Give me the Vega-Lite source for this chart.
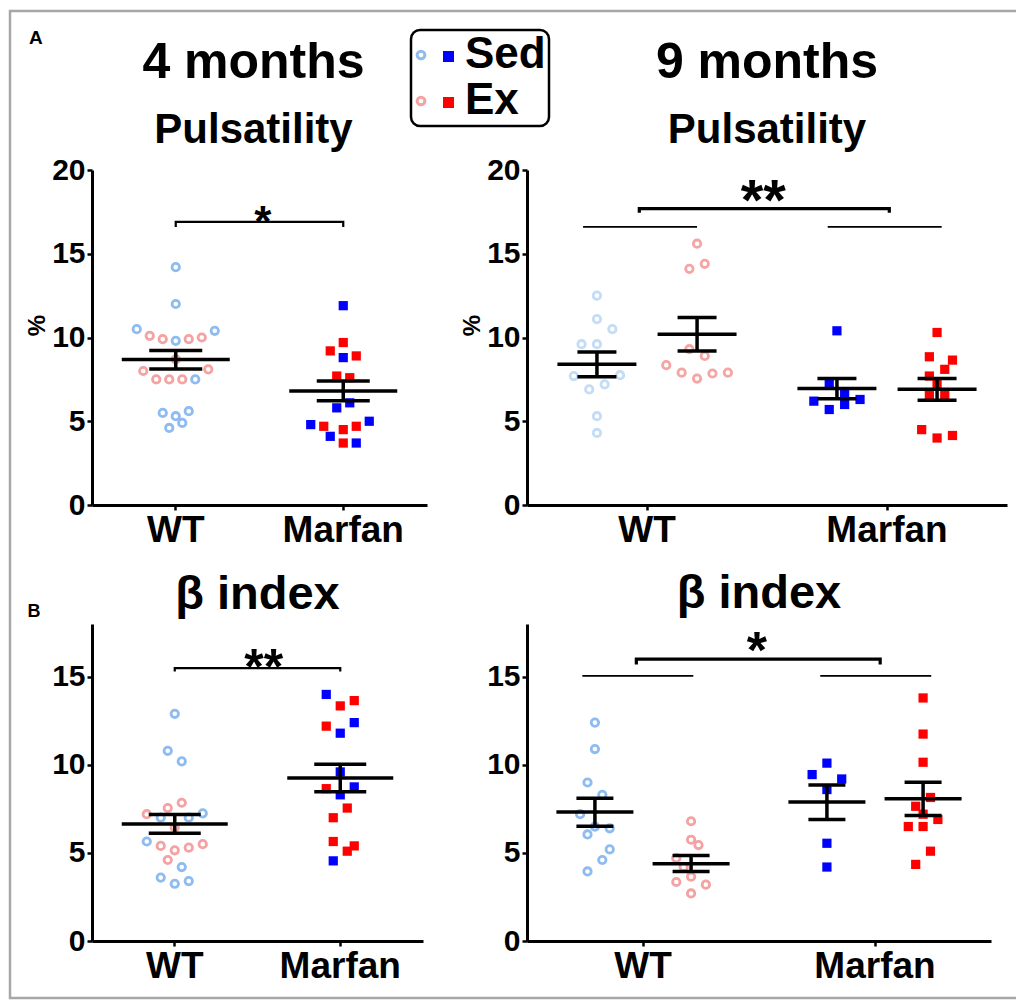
{
  "$schema": "https://vega.github.io/schema/vega-lite/v6.json",
  "autosize": {"type": "none"},
  "padding": {"left": 92, "top": 170, "right": 924, "bottom": 830},
  "background": "white",
  "title": {"text": "A", "anchor": "start", "frame": "group", "fontSize": 19, "offset": -38, "dx": -63},
  "resolve": {"scale": {"xOffset": "independent"}},
  "datasets": {
    "pts": [
      {"p":"p4","g":"WT","s":"Sed","c":0,"v":14.2},{"p":"p4","g":"WT","s":"Sed","c":0,"v":12.0},{"p":"p4","g":"WT","s":"Sed","c":-6,"v":10.5},{"p":"p4","g":"WT","s":"Sed","c":6,"v":10.4},{"p":"p4","g":"WT","s":"Sed","c":0,"v":9.8},{"p":"p4","g":"WT","s":"Sed","c":3,"v":7.5},{"p":"p4","g":"WT","s":"Sed","c":-2,"v":5.5},{"p":"p4","g":"WT","s":"Sed","c":0,"v":5.3},{"p":"p4","g":"WT","s":"Sed","c":2,"v":5.6},{"p":"p4","g":"WT","s":"Sed","c":1,"v":4.9},{"p":"p4","g":"WT","s":"Sed","c":-1,"v":4.6},
      {"p":"p4","g":"WT","s":"Ex","c":-4,"v":10.1},{"p":"p4","g":"WT","s":"Ex","c":-2,"v":9.9},{"p":"p4","g":"WT","s":"Ex","c":2,"v":9.9},{"p":"p4","g":"WT","s":"Ex","c":4,"v":10.0},{"p":"p4","g":"WT","s":"Ex","c":0,"v":8.7},{"p":"p4","g":"WT","s":"Ex","c":-5,"v":8.0},{"p":"p4","g":"WT","s":"Ex","c":5,"v":8.1},{"p":"p4","g":"WT","s":"Ex","c":-3,"v":7.5},{"p":"p4","g":"WT","s":"Ex","c":-1,"v":7.5},{"p":"p4","g":"WT","s":"Ex","c":1,"v":7.5},
      {"p":"p4","g":"Marfan","s":"Sed","c":0,"v":11.9},{"p":"p4","g":"Marfan","s":"Sed","c":0,"v":8.8},{"p":"p4","g":"Marfan","s":"Sed","c":-1,"v":5.8},{"p":"p4","g":"Marfan","s":"Sed","c":1,"v":6.1},{"p":"p4","g":"Marfan","s":"Sed","c":-5,"v":4.8},{"p":"p4","g":"Marfan","s":"Sed","c":4,"v":5.0},{"p":"p4","g":"Marfan","s":"Sed","c":-2,"v":4.1},{"p":"p4","g":"Marfan","s":"Sed","c":2,"v":3.7},
      {"p":"p4","g":"Marfan","s":"Ex","c":0,"v":9.7},{"p":"p4","g":"Marfan","s":"Ex","c":-2,"v":9.2},{"p":"p4","g":"Marfan","s":"Ex","c":2,"v":8.9},{"p":"p4","g":"Marfan","s":"Ex","c":-1,"v":7.7},{"p":"p4","g":"Marfan","s":"Ex","c":1,"v":7.6},{"p":"p4","g":"Marfan","s":"Ex","c":-3,"v":4.7},{"p":"p4","g":"Marfan","s":"Ex","c":0,"v":4.5},{"p":"p4","g":"Marfan","s":"Ex","c":2,"v":4.7},{"p":"p4","g":"Marfan","s":"Ex","c":0,"v":3.7},

      {"p":"p9","g":"WT","s":"Sed","c":-6.5,"v":12.5},{"p":"p9","g":"WT","s":"Sed","c":-6.5,"v":11.1},{"p":"p9","g":"WT","s":"Sed","c":-4.5,"v":10.5},{"p":"p9","g":"WT","s":"Sed","c":-8.5,"v":9.6},{"p":"p9","g":"WT","s":"Sed","c":-6.5,"v":9.6},{"p":"p9","g":"WT","s":"Sed","c":-9.5,"v":7.7},{"p":"p9","g":"WT","s":"Sed","c":-3.5,"v":7.75},{"p":"p9","g":"WT","s":"Sed","c":-7.5,"v":6.9},{"p":"p9","g":"WT","s":"Sed","c":-5.5,"v":7.2},{"p":"p9","g":"WT","s":"Sed","c":-6.5,"v":5.3},{"p":"p9","g":"WT","s":"Sed","c":-6.5,"v":4.3},
      {"p":"p9","g":"WT","s":"Ex","c":6.5,"v":15.6},{"p":"p9","g":"WT","s":"Ex","c":7.5,"v":14.4},{"p":"p9","g":"WT","s":"Ex","c":5.5,"v":14.1},{"p":"p9","g":"WT","s":"Ex","c":5.5,"v":9.3},{"p":"p9","g":"WT","s":"Ex","c":7.5,"v":8.9},{"p":"p9","g":"WT","s":"Ex","c":2.5,"v":8.35},{"p":"p9","g":"WT","s":"Ex","c":4.5,"v":7.9},{"p":"p9","g":"WT","s":"Ex","c":6.5,"v":7.55},{"p":"p9","g":"WT","s":"Ex","c":8.5,"v":7.85},{"p":"p9","g":"WT","s":"Ex","c":10.5,"v":7.9},
      {"p":"p9","g":"Marfan","s":"Sed","c":-6.5,"v":10.4},{"p":"p9","g":"Marfan","s":"Sed","c":-7.5,"v":7.2},{"p":"p9","g":"Marfan","s":"Sed","c":-5.5,"v":6.7},{"p":"p9","g":"Marfan","s":"Sed","c":-9.5,"v":6.2},{"p":"p9","g":"Marfan","s":"Sed","c":-7.5,"v":5.7},{"p":"p9","g":"Marfan","s":"Sed","c":-5.5,"v":6.0},{"p":"p9","g":"Marfan","s":"Sed","c":-3.5,"v":6.3},
      {"p":"p9","g":"Marfan","s":"Ex","c":6.5,"v":10.3},{"p":"p9","g":"Marfan","s":"Ex","c":5.5,"v":8.85},{"p":"p9","g":"Marfan","s":"Ex","c":8.5,"v":8.65},{"p":"p9","g":"Marfan","s":"Ex","c":7.5,"v":8.1},{"p":"p9","g":"Marfan","s":"Ex","c":5.5,"v":7.7},{"p":"p9","g":"Marfan","s":"Ex","c":6.5,"v":7.2},{"p":"p9","g":"Marfan","s":"Ex","c":5.5,"v":6.6},{"p":"p9","g":"Marfan","s":"Ex","c":7.5,"v":6.6},{"p":"p9","g":"Marfan","s":"Ex","c":4.5,"v":4.5},{"p":"p9","g":"Marfan","s":"Ex","c":6.5,"v":4.0},{"p":"p9","g":"Marfan","s":"Ex","c":8.5,"v":4.15},

      {"p":"b4","g":"WT","s":"Sed","c":0,"v":12.9},{"p":"b4","g":"WT","s":"Sed","c":-1,"v":10.8},{"p":"b4","g":"WT","s":"Sed","c":1,"v":10.2},{"p":"b4","g":"WT","s":"Sed","c":4,"v":7.25},{"p":"b4","g":"WT","s":"Sed","c":-2,"v":7.0},{"p":"b4","g":"WT","s":"Sed","c":2,"v":7.0},{"p":"b4","g":"WT","s":"Sed","c":-4,"v":5.65},{"p":"b4","g":"WT","s":"Sed","c":1,"v":4.2},{"p":"b4","g":"WT","s":"Sed","c":-2,"v":3.6},{"p":"b4","g":"WT","s":"Sed","c":0,"v":3.25},{"p":"b4","g":"WT","s":"Sed","c":2,"v":3.4},
      {"p":"b4","g":"WT","s":"Ex","c":-4,"v":7.2},{"p":"b4","g":"WT","s":"Ex","c":-1,"v":7.55},{"p":"b4","g":"WT","s":"Ex","c":1,"v":7.85},{"p":"b4","g":"WT","s":"Ex","c":0,"v":6.45},{"p":"b4","g":"WT","s":"Ex","c":-2,"v":5.4},{"p":"b4","g":"WT","s":"Ex","c":0,"v":5.15},{"p":"b4","g":"WT","s":"Ex","c":2,"v":5.3},{"p":"b4","g":"WT","s":"Ex","c":4,"v":5.5},{"p":"b4","g":"WT","s":"Ex","c":-1,"v":4.6},
      {"p":"b4","g":"Marfan","s":"Sed","c":-2,"v":14.0},{"p":"b4","g":"Marfan","s":"Sed","c":2,"v":12.4},{"p":"b4","g":"Marfan","s":"Sed","c":0,"v":11.8},{"p":"b4","g":"Marfan","s":"Sed","c":0,"v":9.6},{"p":"b4","g":"Marfan","s":"Sed","c":2,"v":8.75},{"p":"b4","g":"Marfan","s":"Sed","c":0,"v":8.3},{"p":"b4","g":"Marfan","s":"Sed","c":-1,"v":4.55},
      {"p":"b4","g":"Marfan","s":"Ex","c":0,"v":13.35},{"p":"b4","g":"Marfan","s":"Ex","c":2,"v":13.65},{"p":"b4","g":"Marfan","s":"Ex","c":-2,"v":12.2},{"p":"b4","g":"Marfan","s":"Ex","c":-2,"v":8.65},{"p":"b4","g":"Marfan","s":"Ex","c":1,"v":7.55},{"p":"b4","g":"Marfan","s":"Ex","c":-1,"v":7.0},{"p":"b4","g":"Marfan","s":"Ex","c":-1,"v":5.65},{"p":"b4","g":"Marfan","s":"Ex","c":1,"v":5.1},{"p":"b4","g":"Marfan","s":"Ex","c":2,"v":5.4},

      {"p":"b9","g":"WT","s":"Sed","c":-6.5,"v":12.4},{"p":"b9","g":"WT","s":"Sed","c":-6.5,"v":10.9},{"p":"b9","g":"WT","s":"Sed","c":-7.5,"v":9.0},{"p":"b9","g":"WT","s":"Sed","c":-5.5,"v":8.3},{"p":"b9","g":"WT","s":"Sed","c":-8.5,"v":7.2},{"p":"b9","g":"WT","s":"Sed","c":-6.5,"v":6.5},{"p":"b9","g":"WT","s":"Sed","c":-4.5,"v":6.4},{"p":"b9","g":"WT","s":"Sed","c":-7.5,"v":6.05},{"p":"b9","g":"WT","s":"Sed","c":-4.5,"v":5.2},{"p":"b9","g":"WT","s":"Sed","c":-5.5,"v":4.6},{"p":"b9","g":"WT","s":"Sed","c":-7.5,"v":3.95},
      {"p":"b9","g":"WT","s":"Ex","c":6.5,"v":6.8},{"p":"b9","g":"WT","s":"Ex","c":6.5,"v":5.75},{"p":"b9","g":"WT","s":"Ex","c":7.5,"v":5.45},{"p":"b9","g":"WT","s":"Ex","c":4.5,"v":4.7},{"p":"b9","g":"WT","s":"Ex","c":5.5,"v":4.2},{"p":"b9","g":"WT","s":"Ex","c":4.5,"v":3.35},{"p":"b9","g":"WT","s":"Ex","c":6.5,"v":3.65},{"p":"b9","g":"WT","s":"Ex","c":8.5,"v":3.2},{"p":"b9","g":"WT","s":"Ex","c":6.5,"v":2.7},
      {"p":"b9","g":"Marfan","s":"Sed","c":-6.5,"v":10.1},{"p":"b9","g":"Marfan","s":"Sed","c":-8.5,"v":9.45},{"p":"b9","g":"Marfan","s":"Sed","c":-4.5,"v":9.2},{"p":"b9","g":"Marfan","s":"Sed","c":-6.5,"v":8.6},{"p":"b9","g":"Marfan","s":"Sed","c":-6.5,"v":5.55},{"p":"b9","g":"Marfan","s":"Sed","c":-6.5,"v":4.2},
      {"p":"b9","g":"Marfan","s":"Ex","c":6.5,"v":13.8},{"p":"b9","g":"Marfan","s":"Ex","c":6.5,"v":11.75},{"p":"b9","g":"Marfan","s":"Ex","c":6.5,"v":10.15},{"p":"b9","g":"Marfan","s":"Ex","c":7.5,"v":8.15},{"p":"b9","g":"Marfan","s":"Ex","c":5.5,"v":7.65},{"p":"b9","g":"Marfan","s":"Ex","c":6.5,"v":7.2},{"p":"b9","g":"Marfan","s":"Ex","c":8.5,"v":6.9},{"p":"b9","g":"Marfan","s":"Ex","c":4.5,"v":6.5},{"p":"b9","g":"Marfan","s":"Ex","c":6.5,"v":6.5},{"p":"b9","g":"Marfan","s":"Ex","c":7.5,"v":5.1},{"p":"b9","g":"Marfan","s":"Ex","c":5.5,"v":4.35}
    ],
    "stats": [
      {"p":"p4","g":"WT","s":"all","c":0,"m":8.68,"lo":8.12,"hi":9.23},
      {"p":"p4","g":"Marfan","s":"all","c":0,"m":6.81,"lo":6.23,"hi":7.40},
      {"p":"p9","g":"WT","s":"Sed","c":-6.5,"m":8.41,"lo":7.65,"hi":9.14},
      {"p":"p9","g":"WT","s":"Ex","c":6.5,"m":10.2,"lo":9.2,"hi":11.2},
      {"p":"p9","g":"Marfan","s":"Sed","c":-6.5,"m":6.95,"lo":6.35,"hi":7.55},
      {"p":"p9","g":"Marfan","s":"Ex","c":6.5,"m":6.91,"lo":6.25,"hi":7.55},
      {"p":"b4","g":"WT","s":"all","c":0,"m":6.64,"lo":6.12,"hi":7.19},
      {"p":"b4","g":"Marfan","s":"all","c":0,"m":9.26,"lo":8.47,"hi":10.03},
      {"p":"b9","g":"WT","s":"Sed","c":-6.5,"m":7.32,"lo":6.52,"hi":8.10},
      {"p":"b9","g":"WT","s":"Ex","c":6.5,"m":4.38,"lo":3.95,"hi":4.86},
      {"p":"b9","g":"Marfan","s":"Sed","c":-6.5,"m":7.89,"lo":6.90,"hi":8.86},
      {"p":"b9","g":"Marfan","s":"Ex","c":6.5,"m":8.08,"lo":7.13,"hi":9.01}
    ],
    "brk": [
      {"p":"p4","k":"main","id":"a","g":"WT","c":0,"y":16.6,"o":1},{"p":"p4","k":"main","id":"a","g":"WT","c":0,"y":16.9,"o":2},{"p":"p4","k":"main","id":"a","g":"Marfan","c":0,"y":16.9,"o":3},{"p":"p4","k":"main","id":"a","g":"Marfan","c":0,"y":16.6,"o":4},
      {"p":"p9","k":"main","id":"a","g":"WT","c":-1,"y":17.45,"o":1},{"p":"p9","k":"main","id":"a","g":"WT","c":-1,"y":17.7,"o":2},{"p":"p9","k":"main","id":"a","g":"Marfan","c":0.3,"y":17.7,"o":3},{"p":"p9","k":"main","id":"a","g":"Marfan","c":0.3,"y":17.45,"o":4},
      {"p":"p9","k":"sub","id":"w","g":"WT","c":-8.3,"y":16.6,"o":1},{"p":"p9","k":"sub","id":"w","g":"WT","c":6.5,"y":16.6,"o":2},
      {"p":"p9","k":"sub","id":"m","g":"Marfan","c":-7.7,"y":16.6,"o":1},{"p":"p9","k":"sub","id":"m","g":"Marfan","c":7.1,"y":16.6,"o":2},
      {"p":"b4","k":"main","id":"a","g":"WT","c":0,"y":15.3,"o":1},{"p":"b4","k":"main","id":"a","g":"WT","c":0,"y":15.5,"o":2},{"p":"b4","k":"main","id":"a","g":"Marfan","c":0,"y":15.5,"o":3},{"p":"b4","k":"main","id":"a","g":"Marfan","c":0,"y":15.3,"o":4},
      {"p":"b9","k":"main","id":"a","g":"WT","c":-0.9,"y":15.7,"o":1},{"p":"b9","k":"main","id":"a","g":"WT","c":-0.9,"y":16.0,"o":2},{"p":"b9","k":"main","id":"a","g":"Marfan","c":0.7,"y":16.0,"o":3},{"p":"b9","k":"main","id":"a","g":"Marfan","c":0.7,"y":15.7,"o":4},
      {"p":"b9","k":"sub","id":"w","g":"WT","c":-8.2,"y":15.05,"o":1},{"p":"b9","k":"sub","id":"w","g":"WT","c":6.8,"y":15.05,"o":2},
      {"p":"b9","k":"sub","id":"m","g":"Marfan","c":-7.4,"y":15.05,"o":1},{"p":"b9","k":"sub","id":"m","g":"Marfan","c":7.6,"y":15.05,"o":2}
    ],
    "stars": [
      {"p":"p4","g":"WT","c":13.4,"y":16.0,"t":"*"},
      {"p":"p9","g":"WT","c":15.1,"y":17.0,"t":"**"},
      {"p":"b4","g":"WT","c":12.7,"y":14.6,"t":"**"},
      {"p":"b9","g":"WT","c":15.4,"y":15.5,"t":"*"}
    ]
  },
  "columns": 2,
  "spacing": {"row": 119, "column": 100},
  "bounds": "flush",
  "concat": [
    {
      "width": 335, "height": 335,
      "title": {"text": "4 months", "subtitle": "Pulsatility", "offset": 4, "dx": -6},
      "encoding": {
        "x": {"field": "g", "type": "nominal", "scale": {"type": "band", "domain": ["WT", "Marfan"], "paddingInner": 0, "paddingOuter": 0}, "axis": {"title": null}},
        "xOffset": {"field": "c", "type": "quantitative", "scale": {"domain": [-12.88, 12.88], "range": [0, 167.5], "nice": false, "zero": false}}
      },
      "layer": [
        {"data": {"name": "pts"}, "transform": [{"filter": "datum.p == 'p4' && datum.g == 'WT'"}],
         "mark": {"type": "point", "shape": "circle", "filled": false, "size": 55, "strokeWidth": 2.8, "opacity": 1},
         "encoding": {
           "y": {"field": "v", "type": "quantitative", "scale": {"domain": [0, 20], "nice": false}, "axis": {"values": [0, 5, 10, 15, 20], "title": "%", "titleY": 155}},
           "stroke": {"field": "s", "type": "nominal", "scale": {"domain": ["Sed", "Ex", "none"], "range": ["#8ebcf0", "#f4a2a2", "#cccccc"]},
             "legend": {"values": ["Sed", "Ex"], "orient": "none", "legendX": 319, "legendY": -140, "title": null, "labelFontSize": 44, "labelFontWeight": "bold", "labelColor": "#000", "labelFont": "Liberation Sans", "labelOffset": 22, "symbolOffset": -15, "symbolType": "circle", "symbolSize": 60, "symbolStrokeWidth": 3, "strokeColor": "#000", "cornerRadius": 9, "padding": 3, "rowPadding": 2}}
         }},
        {"data": {"name": "pts"}, "transform": [{"filter": "datum.p == 'p4' && datum.g == 'Marfan'"}],
         "mark": {"type": "point", "shape": "square", "filled": true, "size": 85, "opacity": 1},
         "encoding": {
           "y": {"field": "v", "type": "quantitative"},
           "fill": {"field": "s", "type": "nominal", "scale": {"domain": ["Sed", "Ex"], "range": ["#0000ff", "#ff0000"]},
             "legend": {"orient": "none", "legendX": 351, "legendY": -119, "title": null, "labelExpr": "''", "symbolType": "square", "symbolSize": 121, "symbolStrokeWidth": 0, "rowPadding": 35, "padding": 0}}
         }},
        {"data": {"name": "stats"}, "transform": [{"filter": "datum.p == 'p4'"}], "mark": {"type": "tick", "orient": "horizontal", "size": 108, "thickness": 3.5, "color": "#000", "opacity": 1}, "encoding": {"y": {"field": "m", "type": "quantitative"}}},
        {"data": {"name": "stats"}, "transform": [{"filter": "datum.p == 'p4'"}], "mark": {"type": "tick", "orient": "horizontal", "size": 53, "thickness": 3.5, "color": "#000", "opacity": 1}, "encoding": {"y": {"field": "hi", "type": "quantitative"}}},
        {"data": {"name": "stats"}, "transform": [{"filter": "datum.p == 'p4'"}], "mark": {"type": "tick", "orient": "horizontal", "size": 53, "thickness": 3.5, "color": "#000", "opacity": 1}, "encoding": {"y": {"field": "lo", "type": "quantitative"}}},
        {"data": {"name": "stats"}, "transform": [{"filter": "datum.p == 'p4'"}], "mark": {"type": "rule", "strokeWidth": 3.5, "color": "#000"}, "encoding": {"y": {"field": "lo", "type": "quantitative"}, "y2": {"field": "hi"}}},
        {"data": {"name": "brk"}, "transform": [{"filter": "datum.p == 'p4'"}], "mark": {"type": "line", "strokeWidth": 2.2, "color": "#000"}, "encoding": {"y": {"field": "y", "type": "quantitative"}, "detail": {"field": "id"}, "order": {"field": "o"}}},
        {"data": {"name": "stars"}, "transform": [{"filter": "datum.p == 'p4'"}], "mark": {"type": "text", "fontSize": 44, "fontWeight": "bold", "baseline": "alphabetic", "color": "#000"}, "encoding": {"y": {"field": "y", "type": "quantitative"}, "text": {"field": "t"}}}
      ]
    },
    {
      "width": 480, "height": 335,
      "title": {"text": "9 months", "subtitle": "Pulsatility", "offset": 4},
      "encoding": {
        "x": {"field": "g", "type": "nominal", "scale": {"type": "band", "domain": ["WT", "Marfan"], "paddingInner": 0, "paddingOuter": 0}, "axis": {"title": null}},
        "xOffset": {"field": "c", "type": "quantitative", "scale": {"domain": [-15.58, 15.58], "range": [0, 240], "nice": false, "zero": false}}
      },
      "layer": [
        {"data": {"name": "pts"}, "transform": [{"filter": "datum.p == 'p9' && datum.g == 'WT'"}],
         "mark": {"type": "point", "shape": "circle", "filled": false, "size": 55, "strokeWidth": 2.8, "opacity": 1},
         "encoding": {
           "y": {"field": "v", "type": "quantitative", "scale": {"domain": [0, 20], "nice": false}, "axis": {"values": [0, 5, 10, 15, 20], "title": "%", "titleY": 155}},
           "color": {"field": "s", "type": "nominal", "scale": {"domain": ["Sed", "Ex", "frame"], "range": ["#c4dcf6", "#f6a5a5", "#ffffff"]},
             "legend": {"values": ["Sed"], "orient": "none", "legendX": -82, "legendY": -159, "title": null, "labelExpr": "''", "labelFontSize": 10, "labelOffset": 70, "symbolOpacity": 0, "symbolSize": 100, "strokeColor": "#a7a7aa", "padding": 488, "cornerRadius": 0}}
         }},
        {"data": {"name": "pts"}, "transform": [{"filter": "datum.p == 'p9' && datum.g == 'Marfan'"}],
         "mark": {"type": "point", "shape": "square", "filled": true, "size": 85, "opacity": 1},
         "encoding": {
           "y": {"field": "v", "type": "quantitative"},
           "fill": {"field": "s", "type": "nominal"}
         }},
        {"data": {"name": "stats"}, "transform": [{"filter": "datum.p == 'p9'"}], "mark": {"type": "tick", "orient": "horizontal", "size": 79, "thickness": 3.5, "color": "#000", "opacity": 1}, "encoding": {"y": {"field": "m", "type": "quantitative"}}},
        {"data": {"name": "stats"}, "transform": [{"filter": "datum.p == 'p9'"}], "mark": {"type": "tick", "orient": "horizontal", "size": 39, "thickness": 3.5, "color": "#000", "opacity": 1}, "encoding": {"y": {"field": "hi", "type": "quantitative"}}},
        {"data": {"name": "stats"}, "transform": [{"filter": "datum.p == 'p9'"}], "mark": {"type": "tick", "orient": "horizontal", "size": 39, "thickness": 3.5, "color": "#000", "opacity": 1}, "encoding": {"y": {"field": "lo", "type": "quantitative"}}},
        {"data": {"name": "stats"}, "transform": [{"filter": "datum.p == 'p9'"}], "mark": {"type": "rule", "strokeWidth": 3.5, "color": "#000"}, "encoding": {"y": {"field": "lo", "type": "quantitative"}, "y2": {"field": "hi"}}},
        {"data": {"name": "brk"}, "transform": [{"filter": "datum.p == 'p9' && datum.k == 'main'"}], "mark": {"type": "line", "strokeWidth": 3.2, "color": "#000"}, "encoding": {"y": {"field": "y", "type": "quantitative"}, "detail": {"field": "id"}, "order": {"field": "o"}}},
        {"data": {"name": "brk"}, "transform": [{"filter": "datum.p == 'p9' && datum.k == 'sub'"}], "mark": {"type": "line", "strokeWidth": 1.7, "color": "#000"}, "encoding": {"y": {"field": "y", "type": "quantitative"}, "detail": {"field": "id"}, "order": {"field": "o"}}},
        {"data": {"name": "stars"}, "transform": [{"filter": "datum.p == 'p9'"}], "mark": {"type": "text", "fontSize": 58, "fontWeight": "bold", "baseline": "alphabetic", "color": "#000"}, "encoding": {"y": {"field": "y", "type": "quantitative"}, "text": {"field": "t"}}}
      ]
    },
    {
      "width": 331, "height": 317,
      "title": {"text": "β index", "offset": -17, "fontSize": 47},
      "encoding": {
        "x": {"field": "g", "type": "nominal", "scale": {"type": "band", "domain": ["WT", "Marfan"], "paddingInner": 0, "paddingOuter": 0}, "axis": {"title": null}},
        "xOffset": {"field": "c", "type": "quantitative", "scale": {"domain": [-11.82, 11.82], "range": [0, 165.5], "nice": false, "zero": false}}
      },
      "layer": [
        {"data": {"name": "pts"}, "transform": [{"filter": "datum.p == 'b4' && datum.g == 'WT'"}],
         "mark": {"type": "point", "shape": "circle", "filled": false, "size": 55, "strokeWidth": 2.8, "opacity": 1},
         "encoding": {
           "y": {"field": "v", "type": "quantitative", "scale": {"domain": [0, 18], "nice": false}, "axis": {"values": [0, 5, 10, 15], "title": "B", "titleAngle": 0, "titleAlign": "left", "titleBaseline": "alphabetic", "titleX": -65, "titleY": -8, "titleFontSize": 18}},
           "stroke": {"field": "s", "type": "nominal"}
         }},
        {"data": {"name": "pts"}, "transform": [{"filter": "datum.p == 'b4' && datum.g == 'Marfan'"}],
         "mark": {"type": "point", "shape": "square", "filled": true, "size": 85, "opacity": 1},
         "encoding": {
           "y": {"field": "v", "type": "quantitative"},
           "fill": {"field": "s", "type": "nominal"}
         }},
        {"data": {"name": "stats"}, "transform": [{"filter": "datum.p == 'b4'"}], "mark": {"type": "tick", "orient": "horizontal", "size": 106, "thickness": 3.5, "color": "#000", "opacity": 1}, "encoding": {"y": {"field": "m", "type": "quantitative"}}},
        {"data": {"name": "stats"}, "transform": [{"filter": "datum.p == 'b4'"}], "mark": {"type": "tick", "orient": "horizontal", "size": 52, "thickness": 3.5, "color": "#000", "opacity": 1}, "encoding": {"y": {"field": "hi", "type": "quantitative"}}},
        {"data": {"name": "stats"}, "transform": [{"filter": "datum.p == 'b4'"}], "mark": {"type": "tick", "orient": "horizontal", "size": 52, "thickness": 3.5, "color": "#000", "opacity": 1}, "encoding": {"y": {"field": "lo", "type": "quantitative"}}},
        {"data": {"name": "stats"}, "transform": [{"filter": "datum.p == 'b4'"}], "mark": {"type": "rule", "strokeWidth": 3.5, "color": "#000"}, "encoding": {"y": {"field": "lo", "type": "quantitative"}, "y2": {"field": "hi"}}},
        {"data": {"name": "brk"}, "transform": [{"filter": "datum.p == 'b4'"}], "mark": {"type": "line", "strokeWidth": 2.2, "color": "#000"}, "encoding": {"y": {"field": "y", "type": "quantitative"}, "detail": {"field": "id"}, "order": {"field": "o"}}},
        {"data": {"name": "stars"}, "transform": [{"filter": "datum.p == 'b4'"}], "mark": {"type": "text", "fontSize": 50, "fontWeight": "bold", "baseline": "alphabetic", "color": "#000"}, "encoding": {"y": {"field": "y", "type": "quantitative"}, "text": {"field": "t"}}}
      ]
    },
    {
      "width": 464, "height": 317,
      "title": {"text": "β index", "offset": 6, "fontSize": 47},
      "encoding": {
        "x": {"field": "g", "type": "nominal", "scale": {"type": "band", "domain": ["WT", "Marfan"], "paddingInner": 0, "paddingOuter": 0}, "axis": {"title": null}},
        "xOffset": {"field": "c", "type": "quantitative", "scale": {"domain": [-15.68, 15.68], "range": [0, 232], "nice": false, "zero": false}}
      },
      "layer": [
        {"data": {"name": "pts"}, "transform": [{"filter": "datum.p == 'b9' && datum.g == 'WT'"}],
         "mark": {"type": "point", "shape": "circle", "filled": false, "size": 55, "strokeWidth": 2.8, "opacity": 1},
         "encoding": {
           "y": {"field": "v", "type": "quantitative", "scale": {"domain": [0, 18], "nice": false}, "axis": {"values": [0, 5, 10, 15], "title": null}},
           "stroke": {"field": "s", "type": "nominal"}
         }},
        {"data": {"name": "pts"}, "transform": [{"filter": "datum.p == 'b9' && datum.g == 'Marfan'"}],
         "mark": {"type": "point", "shape": "square", "filled": true, "size": 85, "opacity": 1},
         "encoding": {
           "y": {"field": "v", "type": "quantitative"},
           "fill": {"field": "s", "type": "nominal"}
         }},
        {"data": {"name": "stats"}, "transform": [{"filter": "datum.p == 'b9'"}], "mark": {"type": "tick", "orient": "horizontal", "size": 77, "thickness": 3.5, "color": "#000", "opacity": 1}, "encoding": {"y": {"field": "m", "type": "quantitative"}}},
        {"data": {"name": "stats"}, "transform": [{"filter": "datum.p == 'b9'"}], "mark": {"type": "tick", "orient": "horizontal", "size": 37, "thickness": 3.5, "color": "#000", "opacity": 1}, "encoding": {"y": {"field": "hi", "type": "quantitative"}}},
        {"data": {"name": "stats"}, "transform": [{"filter": "datum.p == 'b9'"}], "mark": {"type": "tick", "orient": "horizontal", "size": 37, "thickness": 3.5, "color": "#000", "opacity": 1}, "encoding": {"y": {"field": "lo", "type": "quantitative"}}},
        {"data": {"name": "stats"}, "transform": [{"filter": "datum.p == 'b9'"}], "mark": {"type": "rule", "strokeWidth": 3.5, "color": "#000"}, "encoding": {"y": {"field": "lo", "type": "quantitative"}, "y2": {"field": "hi"}}},
        {"data": {"name": "brk"}, "transform": [{"filter": "datum.p == 'b9' && datum.k == 'main'"}], "mark": {"type": "line", "strokeWidth": 3.2, "color": "#000"}, "encoding": {"y": {"field": "y", "type": "quantitative"}, "detail": {"field": "id"}, "order": {"field": "o"}}},
        {"data": {"name": "brk"}, "transform": [{"filter": "datum.p == 'b9' && datum.k == 'sub'"}], "mark": {"type": "line", "strokeWidth": 1.7, "color": "#000"}, "encoding": {"y": {"field": "y", "type": "quantitative"}, "detail": {"field": "id"}, "order": {"field": "o"}}},
        {"data": {"name": "stars"}, "transform": [{"filter": "datum.p == 'b9'"}], "mark": {"type": "text", "fontSize": 52, "fontWeight": "bold", "baseline": "alphabetic", "color": "#000"}, "encoding": {"y": {"field": "y", "type": "quantitative"}, "text": {"field": "t"}}}
      ]
    }
  ],
  "config": {
    "font": "Liberation Sans",
    "view": {"stroke": null},
    "legend": {"strokeWidth": 2.5},
    "axis": {"domainColor": "#000", "domainWidth": 3, "tickColor": "#000", "tickWidth": 2.5, "tickSize": 5, "labelColor": "#000", "labelFont": "Liberation Sans", "labelFontWeight": "bold", "grid": false, "titleColor": "#000", "titleFont": "Liberation Sans", "titleFontWeight": "bold"},
    "axisX": {"labelFontSize": 37, "labelPadding": 2, "labelAngle": 0},
    "axisY": {"labelFontSize": 30, "labelPadding": 2, "titleFontSize": 24, "titlePadding": 2},
    "title": {"font": "Liberation Sans", "fontSize": 50, "fontWeight": "bold", "color": "#000", "subtitleFont": "Liberation Sans", "subtitleFontSize": 42, "subtitleFontWeight": "bold", "subtitleColor": "#000", "subtitlePadding": 22, "anchor": "middle", "frame": "group"}
  }
}
